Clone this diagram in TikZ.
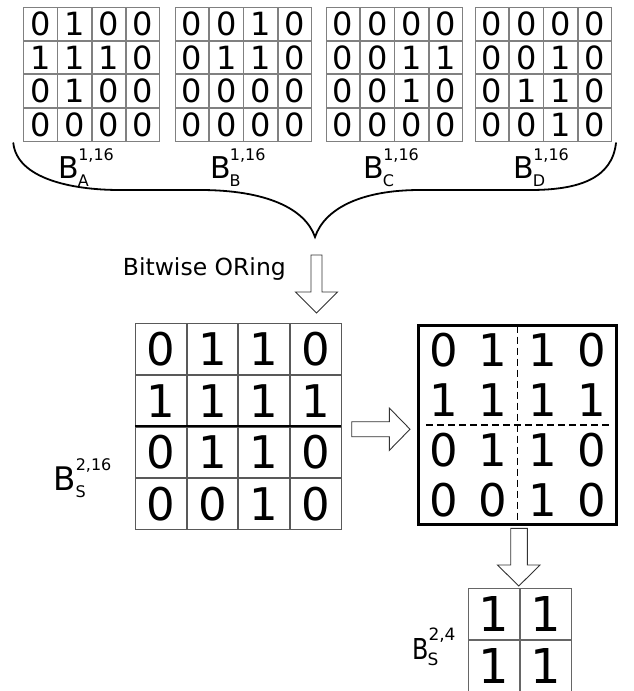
\documentclass[tikz,border=0pt]{standalone}
\usepackage{fontspec}
\setmainfont{DejaVu Sans}
\usetikzlibrary{matrix,calc}
\tikzset{
  topcell/.style={draw=black!50, line width=0.9pt, minimum width=33.3pt, minimum height=32.9pt, inner sep=0pt, outer sep=0pt, font=\fontsize{32}{32}\selectfont},
  topgrid/.style={matrix of nodes, inner sep=0pt, outer sep=0pt, column sep=0pt, row sep=0pt, anchor=north west, nodes={topcell}},
  midcell/.style={draw=black!65, line width=0.9pt, minimum size=50.75pt, inner sep=0pt, outer sep=0pt, font=\fontsize{45}{45}\selectfont},
  midgrid/.style={matrix of nodes, inner sep=0pt, outer sep=0pt, column sep=0pt, row sep=0pt, anchor=north west, nodes={midcell}},
  rcell/.style={minimum width=49.5pt, minimum height=49.75pt, inner sep=0pt, outer sep=0pt, font=\fontsize{45}{45}\selectfont},
  rgrid/.style={matrix of nodes, inner sep=0pt, outer sep=0pt, column sep=0pt, row sep=0pt, anchor=north west, nodes={rcell}},
  scell/.style={draw=black!60, line width=0.9pt, minimum size=51pt, inner sep=0pt, outer sep=0pt, font=\fontsize{48}{48}\selectfont},
  sgrid/.style={matrix of nodes, inner sep=0pt, outer sep=0pt, column sep=0pt, row sep=0pt, anchor=north west, nodes={scell}},
  bigB/.style={anchor=base west, inner sep=0pt, outer sep=0pt, font=\fontsize{30}{30}\selectfont},
  idx/.style={anchor=base west, inner sep=0pt, outer sep=0pt, font=\fontsize{16}{16}\selectfont},
  hollow/.style={draw=black!80, line width=0.9pt, fill=white, line join=miter},
  bracepath/.style={line width=1.8pt, line cap=round},
  dashline/.style={line width=1.3pt, dash pattern=on 7pt off 4pt},
}
\begin{document}
\begin{tikzpicture}[x=1pt,y=-1pt]
\useasboundingbox (0,0) rectangle (634,691);

% top matrices
\matrix (A) [topgrid] at (23.3,6.7) {
0 & 1 & 0 & 0 \\
1 & 1 & 1 & 0 \\
0 & 1 & 0 & 0 \\
0 & 0 & 0 & 0 \\
};
\matrix (B) [topgrid] at (175,6.7) {
0 & 0 & 1 & 0 \\
0 & 1 & 1 & 0 \\
0 & 0 & 0 & 0 \\
0 & 0 & 0 & 0 \\
};
\matrix (C) [topgrid] at (326,6.7) {
0 & 0 & 0 & 0 \\
0 & 0 & 1 & 1 \\
0 & 0 & 1 & 0 \\
0 & 0 & 0 & 0 \\
};
\matrix (D) [topgrid] at (475,6.7) {
0 & 0 & 0 & 0 \\
0 & 0 & 1 & 0 \\
0 & 1 & 1 & 0 \\
0 & 0 & 1 & 0 \\
};

% top labels
\node[bigB] (lA) at ($(A.south west)+(35.5,36.7)$) {B};
\node[idx] (lAsup) at ([xshift=-1.1pt,yshift=18.3pt]lA.base east) {1,16};
\node[idx] (lAsub) at ([xshift=-1.4pt,yshift=-8.3pt]lA.base east) {A};
\node[bigB] (lB) at ($(B.south west)+(35.4,36.7)$) {B};
\node[idx] (lBsup) at ([xshift=-1.1pt,yshift=18.3pt]lB.base east) {1,16};
\node[idx] (lBsub) at ([xshift=-1.4pt,yshift=-8.3pt]lB.base east) {B};
\node[bigB] (lC) at ($(C.south west)+(37.8,36.7)$) {B};
\node[idx] (lCsup) at ([xshift=-1.1pt,yshift=18.3pt]lC.base east) {1,16};
\node[idx] (lCsub) at ([xshift=-1.4pt,yshift=-8.3pt]lC.base east) {C};
\node[bigB] (lD) at ($(D.south west)+(38.8,36.7)$) {B};
\node[idx] (lDsup) at ([xshift=-1.1pt,yshift=18.3pt]lD.base east) {1,16};
\node[idx] (lDsub) at ([xshift=-1.4pt,yshift=-8.3pt]lD.base east) {D};

% brace
\coordinate (bl) at (13.3,143);
\coordinate (btip) at (315,237);
\coordinate (br) at (616,143);
\draw[bracepath] (bl) .. controls (17,178) and (70,190) .. (120,190) -- (200,190)
  .. controls (265,190) and (305,208) .. (btip)
  .. controls (325,208) and (362,190) .. (420,190) -- (530,190)
  .. controls (580,190) and (612,178) .. (br);

% bitwise ORing
\node[anchor=base west, inner sep=0pt, font=\fontsize{23.5}{23.5}\selectfont] (orlab) at (122.7,275) {Bitwise ORing};

% middle matrix
\matrix (M) [midgrid] at (135,323.3) {
0 & 1 & 1 & 0 \\
1 & 1 & 1 & 1 \\
0 & 1 & 1 & 0 \\
0 & 0 & 1 & 0 \\
};
\draw[line width=1.4pt] (M-2-1.south west) -- (M-2-4.south east);

% down arrow 1
\draw[hollow] (311,255) -- (322,255) -- (322,292) -- (337.5,292) -- (316.5,313) -- (295.5,292) -- (311,292) -- cycle;

% right matrix
\matrix (R) [rgrid] at (418.8,325.5) {
0 & 1 & 1 & 0 \\
1 & 1 & 1 & 1 \\
0 & 1 & 1 & 0 \\
0 & 0 & 1 & 0 \\
};
\draw[line width=3pt] (R.north west) rectangle (R.south east);
\draw[dashline] (R.north) -- (R.south);
\draw[dashline] ($(R.west)+(7,0)$) -- ($(R.east)+(-7,0)$);

% right arrow
\draw[hollow] (351.7,421.7) -- (389.3,421.7) -- (389.3,408) -- (410,429.2) -- (389.3,450.4) -- (389.3,436.7) -- (351.7,436.7) -- cycle;

% label B_S^{2,16}
\node[bigB, font=\fontsize{32.5}{32.5}\selectfont] (lS) at (53.8,490.7) {B};
\node[idx] (lSsup) at ([xshift=-0.3pt,yshift=20pt]lS.base east) {2,16};
\node[idx] (lSsub) at ([xshift=-0.4pt,yshift=-6.3pt]lS.base east) {S};

% down arrow 2
\draw[hollow] (510.7,528.3) -- (527.3,528.3) -- (527.3,565) -- (540,565) -- (518.8,586) -- (497.5,565) -- (510.7,565) -- cycle;

% small matrix
\matrix (S) [sgrid] at (468.3,588.3) {
1 & 1 \\
1 & 1 \\
};

% label B_S^{2,4}
\node[bigB, font=\fontsize{28.8}{28.8}\selectfont] (lT) at (412.7,659) {\scalebox{0.83}[1]{B}};
\node[idx, font=\fontsize{17}{17}\selectfont] (lTsup) at ([xshift=-0.6pt,yshift=19pt]lT.base east) {2,4};
\node[idx, font=\fontsize{17}{17}\selectfont] (lTsub) at ([xshift=-1.6pt,yshift=-6pt]lT.base east) {S};
\end{tikzpicture}
\end{document}
